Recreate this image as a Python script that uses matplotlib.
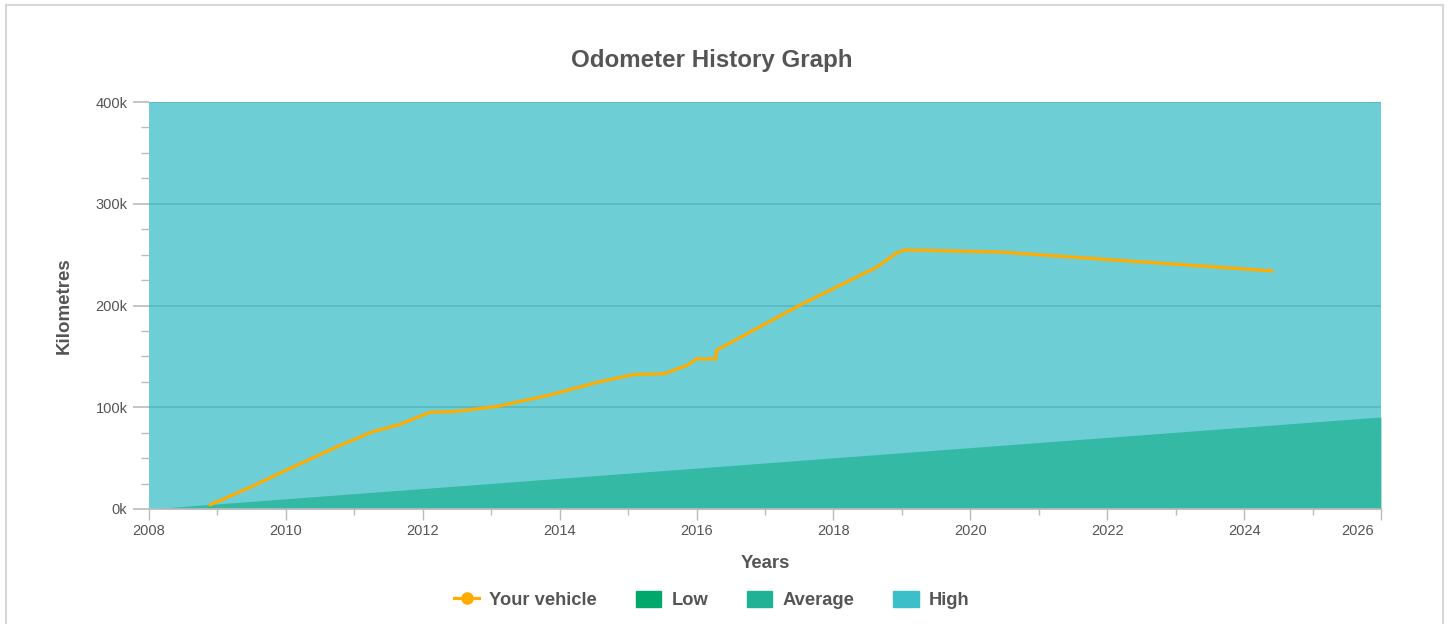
"""
Odometer history graph - vehicle reading vs. low / average / high bands
"""
import numpy as np
import matplotlib.pyplot as plt
from matplotlib.lines import Line2D
from matplotlib.patches import Patch, Rectangle
from matplotlib.transforms import ScaledTranslation

plt.rcParams['font.family'] = ['Liberation Sans', 'DejaVu Sans']

# odometer readings of the vehicle (years, thousand km)
vehicle_years = [2008.89, 2009.5, 2010.0, 2010.74, 2011.27, 2011.66, 2012.1, 2012.5,
                 2013.1, 2013.85, 2014.58, 2015.07, 2015.53, 2015.87, 2016.0, 2016.28,
                 2016.29, 2017.5, 2018.64, 2018.92, 2019.04, 2020.42, 2024.41]
vehicle_km = [4, 22, 38, 61, 76, 83, 95, 96, 101, 112, 125, 132, 133, 141.5, 147.5,
              147.5, 156, 200, 238, 251.6, 254.6, 252.6, 234]

# reference bands
band_years = [2008, 2026]
low_km = [0, 0]
average_km = [0, 90.5]
high_km = [400, 400]

c_vehicle = '#ffab00'
c_low = '#00a86b'
c_avg = '#20b294'
c_high = '#3cbfc8'
txt = '#555555'

fig = plt.figure(figsize=(14.52, 6.24), dpi=100)
ax = fig.add_axes([149/1452, 1-509/624, (1381-149)/1452, (509-102)/624])

# outer frame
fig.patches.append(Rectangle((6/1452, -0.05), (1443-6)/1452, 1-5/624+0.05,
                             transform=fig.transFigure, fill=False,
                             edgecolor='#d6d6d6', lw=1.5))

# grid under the translucent areas
for yv in [100, 200, 300, 400]:
    ax.axhline(yv, color='#a8a8a8', lw=1.2, zorder=0)

ax.fill_between(band_years, 0, high_km, color=c_high, alpha=0.75, lw=0, zorder=1)
ax.fill_between(band_years, 0, average_km, color=c_avg, alpha=0.75, lw=0, zorder=2)
ax.fill_between(band_years, 0, low_km, color=c_low, alpha=0.75, lw=0, zorder=3)
ax.plot(vehicle_years, vehicle_km, color=c_vehicle, lw=2.3, zorder=4,
        solid_joinstyle='round', solid_capstyle='round')

ax.set_xlim(2008, 2026)
ax.set_ylim(0, 400)
ax.set_xticks(np.arange(2008, 2027, 2))
ax.set_xticks(np.arange(2009, 2026, 2), minor=True)
ax.set_yticks([0, 100, 200, 300, 400])
ax.set_yticklabels(['0k', '100k', '200k', '300k', '400k'])
ax.set_yticks(np.arange(25, 400, 25), minor=True)

for s in ['top', 'right', 'left']:
    ax.spines[s].set_visible(False)
ax.spines['bottom'].set_color('#bbbbbb')
ax.spines['bottom'].set_linewidth(1.2)
ax.spines['bottom'].set_zorder(5)

ax.tick_params(axis='x', which='major', length=8, width=1, color='#bbbbbb',
               labelsize=10.5, labelcolor=txt, pad=3)
ax.tick_params(axis='x', which='minor', length=4.3, width=1, color='#bbbbbb')
ax.tick_params(axis='y', which='major', length=11.5, width=1.2, color='#bbbbbb',
               labelsize=10.5, labelcolor=txt, pad=4)
ax.tick_params(axis='y', which='minor', length=5.8, width=1, color='#bbbbbb')

# last x label kept inside the plot edge
last = ax.xaxis.get_major_ticks()[-1].label1
last.set_transform(last.get_transform() + ScaledTranslation(-0.23, 0, fig.dpi_scale_trans))

ax.set_xlabel('Years', fontsize=13.3, fontweight='bold', color=txt, labelpad=12)
ax.set_ylabel('Kilometres', fontsize=13.5, fontweight='bold', color=txt, labelpad=16)
fig.text(0.49, 1-60/624, 'Odometer History Graph', ha='center', va='center',
         fontsize=17.4, fontweight='bold', color=txt)

handles = [Line2D([0], [0], color=c_vehicle, lw=2.3, marker='o', markersize=8),
           Patch(color=c_low), Patch(color=c_avg), Patch(color=c_high)]
leg = fig.legend(handles, ['Your vehicle', 'Low', 'Average', 'High'], loc='center',
                 bbox_to_anchor=(0.49, 1-600/624), ncol=4, frameon=False,
                 prop={'weight': 'bold', 'size': 13.2}, handlelength=1.4,
                 handleheight=0.95, columnspacing=2.1, handletextpad=0.55)
for t in leg.get_texts():
    t.set_color(txt)

fig.savefig('out.png', dpi=100)
